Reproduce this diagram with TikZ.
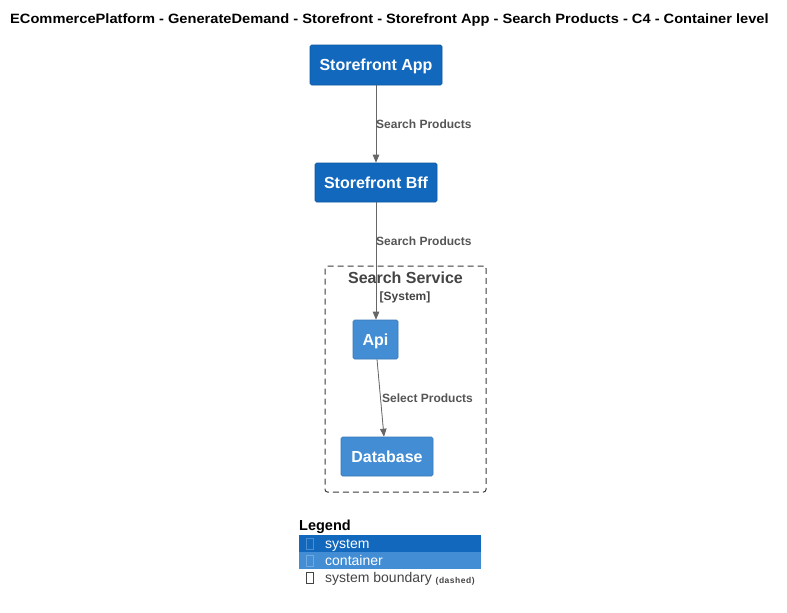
\documentclass[tikz,border=0pt]{standalone}
\usepackage{fontspec}
\setmainfont{Liberation Sans}
\usetikzlibrary{arrows.meta,calc}
\definecolor{sysblue}{HTML}{1168BD}
\definecolor{contblue}{HTML}{438DD5}
\definecolor{relgrey}{HTML}{666666}
\definecolor{labgrey}{HTML}{555555}
\definecolor{bndgrey}{HTML}{444444}
\tikzset{
  captext/.style={text height=0.72*#1, text depth=0pt},
  sysbox/.style={fill=sysblue, draw=sysblue!85!black, line width=0.6pt, rounded corners=1.5pt,
    text=white, font=\fontsize{16}{18}\selectfont\bfseries, inner sep=0pt, captext=16pt},
  contbox/.style={fill=contblue, draw=contblue!85!black, line width=0.6pt, rounded corners=1.5pt,
    text=white, font=\fontsize{16}{18}\selectfont\bfseries, inner sep=0pt, captext=16pt},
  rel/.style={draw=relgrey, line width=0.8pt, -{Triangle[length=8pt,width=6.5pt]}, fill=relgrey},
  rellabel/.style={text=labgrey, font=\fontsize{12}{14}\selectfont\bfseries, inner sep=0pt, anchor=west, captext=12pt},
  boundary/.style={draw=bndgrey!85!black, dash pattern=on 6pt off 4pt, line width=1pt, rounded corners=2.5pt},
  legrow/.style={minimum width=182pt, minimum height=17pt, inner sep=0pt, anchor=north west},
  legtext/.style={font=\fontsize{14}{16}\selectfont, inner sep=0pt, anchor=west, captext=14pt},
  tofu/.style={draw, line width=0.5pt, minimum width=7pt, minimum height=11pt, inner sep=0pt}
}
\begin{document}
\begin{tikzpicture}[x=1pt,y=-1pt]
\useasboundingbox (0,0) rectangle (787,613);
% title
\node[anchor=west, inner sep=0pt, font=\fontsize{13.5}{15}\selectfont\bfseries, captext=13.5pt] (title) at (10,19)
  {\scalebox{1.085}[1]{ECommercePlatform - GenerateDemand - Storefront - Storefront App - Search Products - C4 - Container level}};

% system boundary
\node[boundary, minimum width=161pt, minimum height=226pt, inner sep=0pt] (bnd) at (405.5,379) {};
\node[text=bndgrey, font=\fontsize{16}{18}\selectfont\bfseries, inner sep=0pt, captext=16pt] (bndtitle) at (405.5,278) {Search Service};
\node[text=bndgrey, font=\fontsize{12}{14}\selectfont\bfseries, inner sep=0pt, captext=12pt] (bndtype) at (405,296) {[System]};

% elements
\node[sysbox, minimum width=132pt, minimum height=40pt] (app) at (376,65) {Storefront App};
\node[sysbox, minimum width=122pt, minimum height=39pt] (bff) at (376,182.5) {Storefront Bff};
\node[contbox, minimum width=45pt, minimum height=39pt] (api) at (375.5,339.5) {Api};
\node[contbox, minimum width=92pt, minimum height=39pt] (db) at (387,456.5) {Database};

% relationships
\draw[rel] (app.south) -- (bff.north);
\node[rellabel] (l1) at (376,124.5) {Search Products};
\draw[rel] (bff.south) -- ($(api.north)+(0.5,0)$);
\node[rellabel] (l2) at (376,241.5) {Search Products};
\draw[rel] ($(api.south)+(1.5,0)$) -- ($(db.north)+(-3,0)$);
\node[rellabel] (l3) at (382,398.5) {Select Products};

% legend
\node[anchor=west, inner sep=0pt, font=\fontsize{14.5}{16}\selectfont\bfseries, captext=14.5pt] (legtitle) at (299,525) {Legend};
\node[legrow, fill=sysblue] (lg1) at (299,535) {};
\node[legrow, fill=contblue] (lg2) at (299,552) {};
\node[legrow] (lg3) at (299,569) {};
\node[tofu, draw=sysblue!75!white] (t1) at (310,543.5) {};
\node[tofu, draw=contblue!75!white] (t2) at (310,560.5) {};
\node[tofu, draw=bndgrey] (t3) at (310,578) {};
\node[legtext, text=white] (lt1) at (325,543) {system};
\node[legtext, text=white] (lt2) at (325,560) {container};
\node[legtext, text=bndgrey] (lt3) at (325,577.5) {system boundary \raisebox{-0.5pt}{\fontsize{8.5}{9}\selectfont\bfseries\addfontfeature{LetterSpace=6} (dashed)}};
\end{tikzpicture}
\end{document}
